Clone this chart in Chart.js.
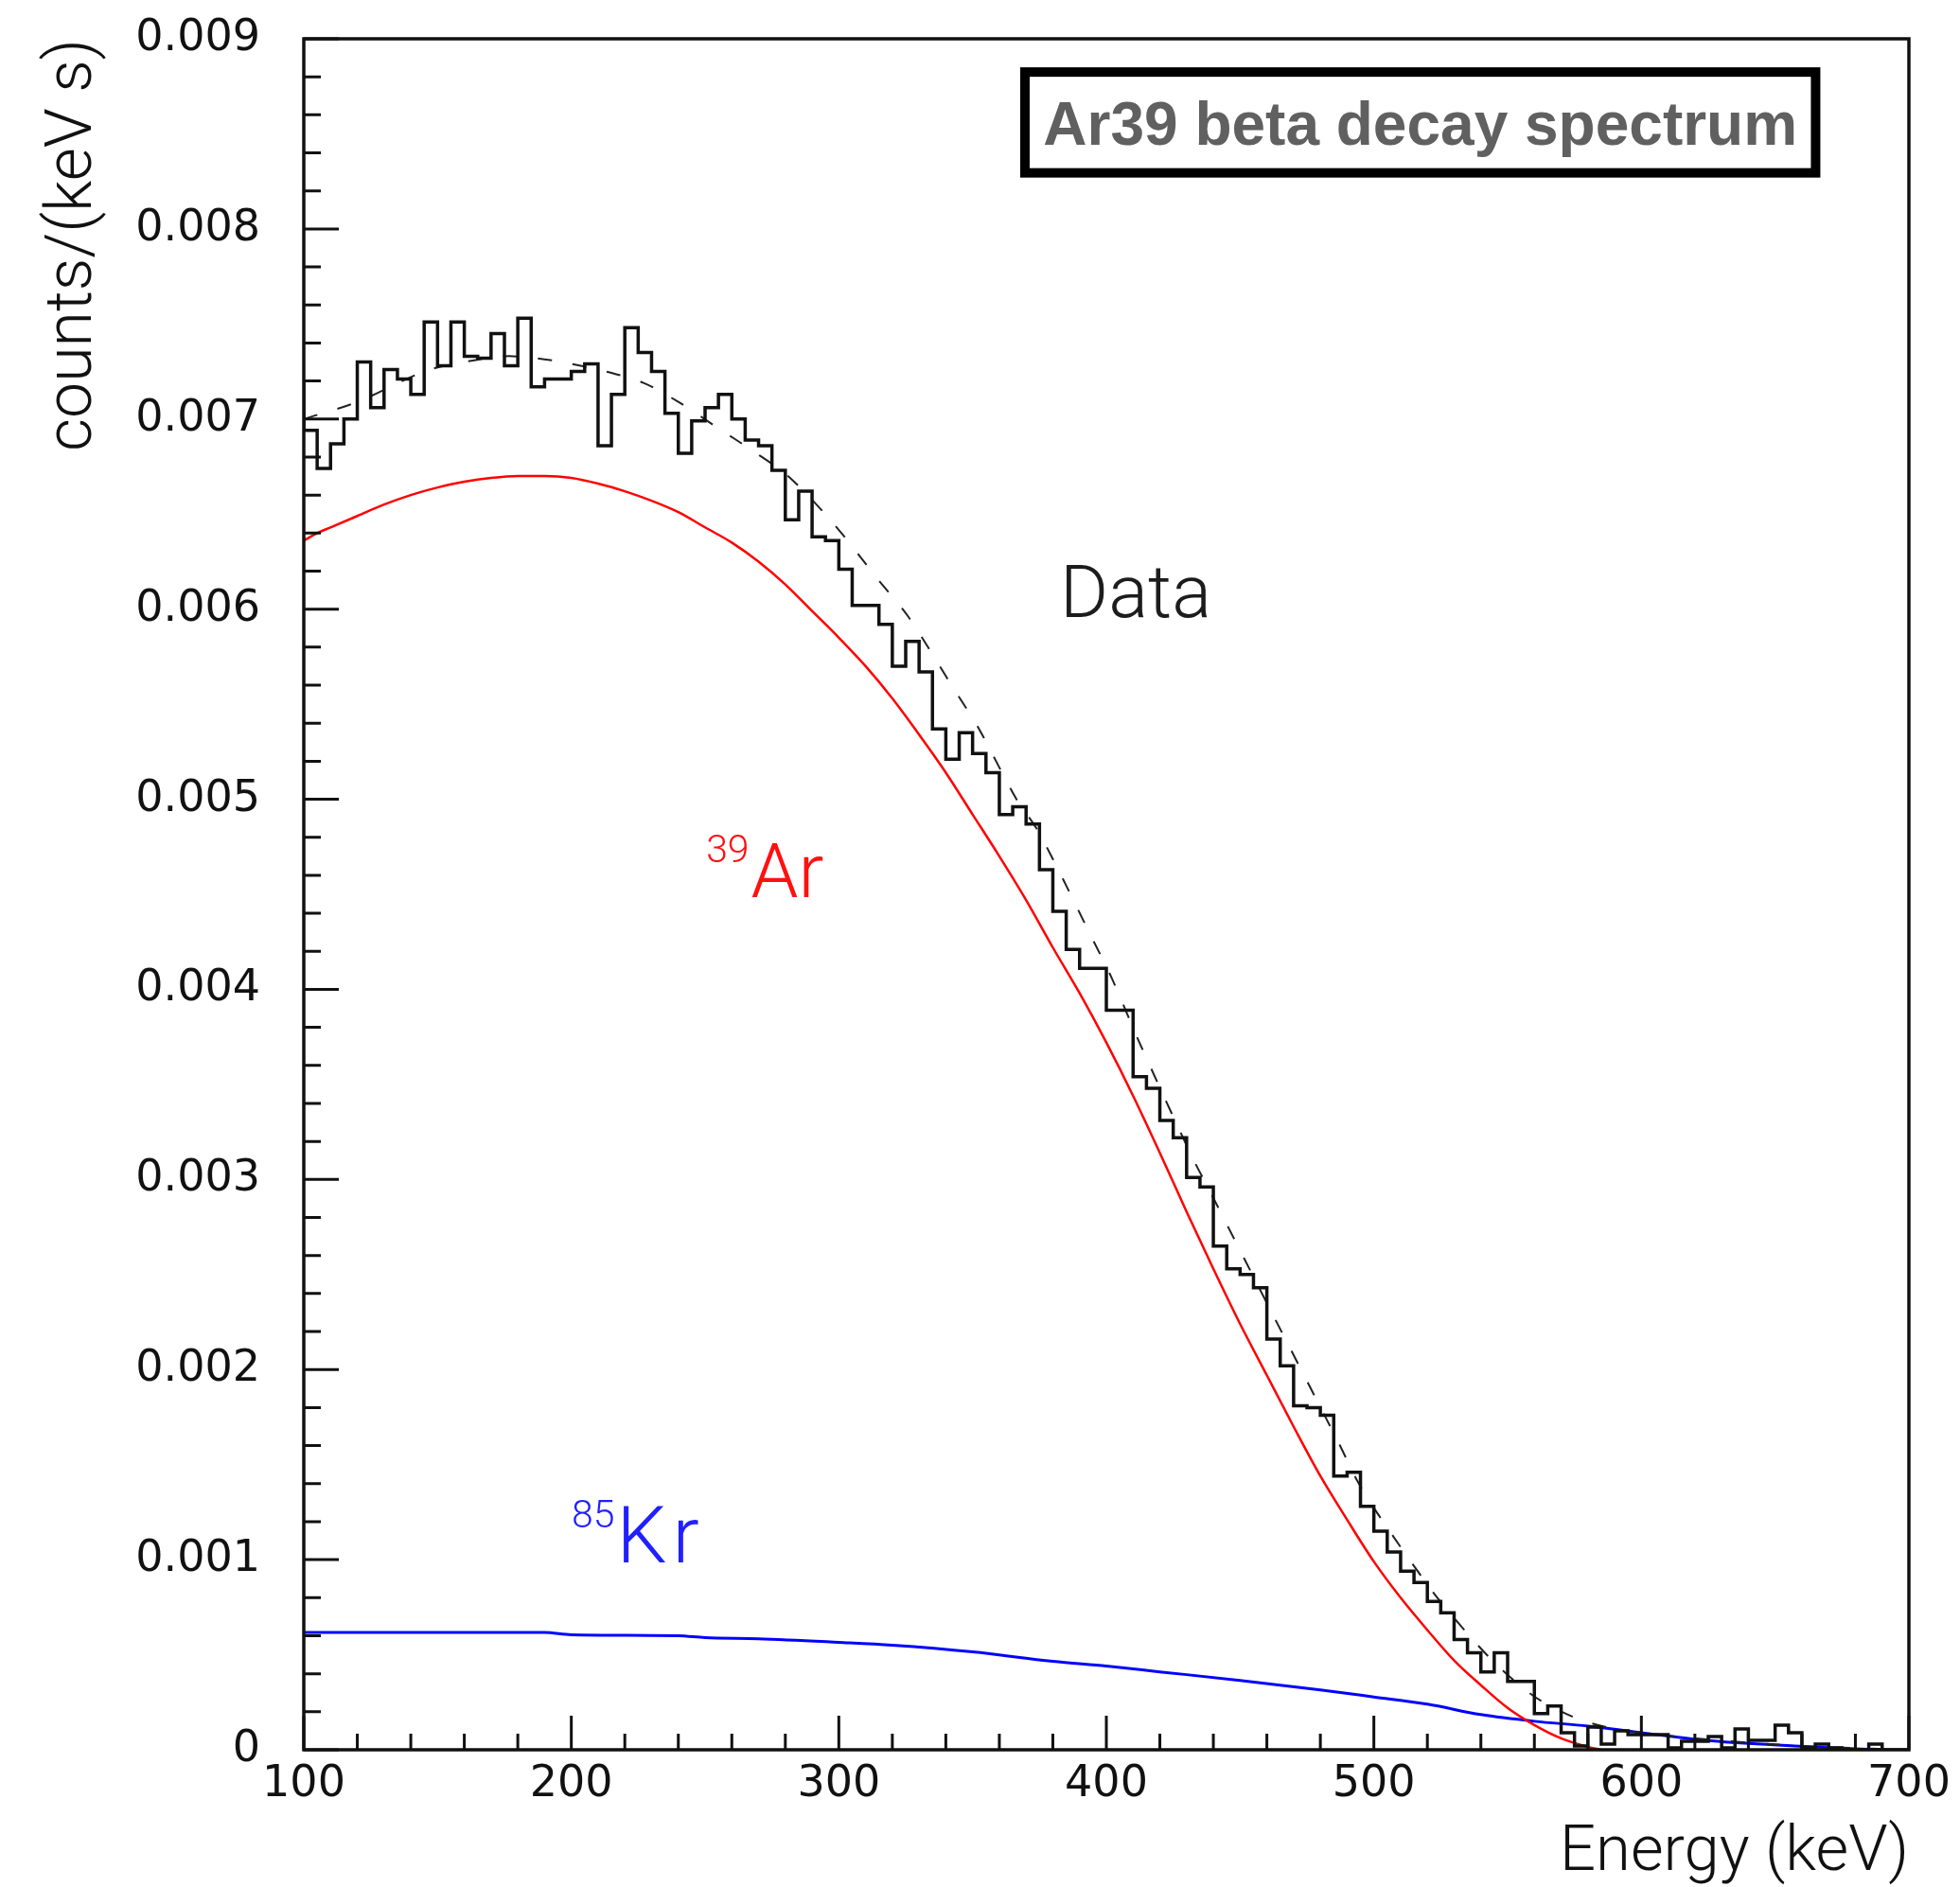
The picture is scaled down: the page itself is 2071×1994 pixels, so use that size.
<!DOCTYPE html>
<html>
<head>
<meta charset="utf-8">
<script src="https://cdn.jsdelivr.net/npm/chart.js@4.4.1/dist/chart.umd.min.js"></script>
<style>
  html, body { margin: 0; padding: 0; background: #fff; }
  #wrap { width: 2071px; height: 1994px; position: relative; }
</style>
</head>
<body>
<div id="wrap"><canvas id="spectrum"></canvas></div>
<script>
// measured spectrum, 5 keV bins starting at 100 keV
const binStart = 100;
const binWidth = 5;
const dataCounts = [
  0.00720, 0.00694, 0.00674, 0.00687, 0.00700, 0.00730, 0.00706, 0.00726, 0.00721, 0.00713,
  0.00751, 0.00728, 0.00751, 0.00733, 0.00732, 0.00745, 0.00728, 0.00753, 0.00717, 0.00721,
  0.00721, 0.00725, 0.00729, 0.00686, 0.00713, 0.00748, 0.00735, 0.00725, 0.00703, 0.00682,
  0.00699, 0.00706, 0.00713, 0.00700, 0.00689, 0.00686, 0.00673, 0.00647, 0.00662, 0.00638,
  0.00636, 0.00621, 0.00602, 0.00602, 0.00592, 0.00570, 0.00583, 0.00567, 0.00537, 0.00521,
  0.00535, 0.00524, 0.00514, 0.00492, 0.00496, 0.00487, 0.00463, 0.00441, 0.00421, 0.00411,
  0.00411, 0.00389, 0.00389, 0.00354, 0.00348, 0.00331, 0.00322, 0.00301, 0.00296, 0.00265,
  0.00253, 0.00250, 0.00243, 0.00216, 0.00202, 0.00181, 0.00180, 0.00176, 0.00144, 0.00146,
  0.00128, 0.00115, 0.00104, 0.00094, 0.00088, 0.00078, 0.00072, 0.00058, 0.00051, 0.00041,
  0.00051, 0.00036, 0.00036, 0.00019, 0.00023, 0.00009, 0.00002, 0.00012, 0.00003, 0.00010,
  0.00008, 0.00008, 0.00008, 0.00001, 0.000045, 0.000045, 0.00007, 0.00001, 0.00011, 0.00005,
  0.00005, 0.00013, 0.00009, 0.00001, 0.00003, 0.00001, 0, 0, 0.00003, 0
];

// total fit (dashed)
const fitEnergy = [100, 120, 145, 160, 175, 187, 200, 213, 227, 240,
  254, 267, 281, 298, 315, 326, 343, 352, 366, 375,
  395, 402, 413, 432, 439, 460, 487, 494, 502, 521,
  532, 545, 560, 575, 590, 620, 660, 700];
const fitTotal = [0.00700, 0.00709, 0.00725, 0.00730, 0.00733, 0.00732, 0.00729, 0.00725, 0.00719, 0.00709,
  0.00696, 0.00684, 0.00670, 0.00645, 0.00615, 0.00596, 0.00558, 0.00538, 0.00501, 0.00482,
  0.00426, 0.00406, 0.00370, 0.00312, 0.00293, 0.00235, 0.00161, 0.00141, 0.00123, 0.00085,
  0.00066, 0.00046, 0.00028, 0.00017, 0.00011, 0.00006, 0.00002, 0.0];

// 39Ar component
const arEnergy = [100, 105, 110, 120, 130, 140, 150, 160, 170, 180, 190, 200, 210, 220, 230, 240,
  250, 260, 270, 280, 290, 300, 310, 320, 330, 340, 350, 360, 370, 380, 390, 400,
  410, 420, 430, 440, 450, 460, 470, 480, 490, 500, 510, 520, 530, 540, 550, 560,
  570, 580, 585];
const arValues = [0.00636, 0.00640, 0.00643, 0.00649, 0.00655, 0.00660, 0.00664, 0.00667, 0.00669, 0.00670,
  0.00670, 0.00669, 0.00666, 0.00662, 0.00657, 0.00651, 0.00643, 0.00635, 0.00625, 0.00613,
  0.00599, 0.00585, 0.00570, 0.00553, 0.00534, 0.00514, 0.00492, 0.00470, 0.00447, 0.00422,
  0.00398, 0.00372, 0.00344, 0.00314, 0.00283, 0.00253, 0.00224, 0.00197, 0.00170, 0.00144,
  0.00121, 0.00099, 0.00080, 0.00063, 0.00047, 0.00034, 0.00022, 0.00013, 0.00006, 0.000015, 0.0];

// 85Kr component
const krEnergy = [100, 190, 200, 240, 250, 270, 300, 320, 350, 380, 400, 420, 450,
  480, 500, 520, 540, 560, 580, 600, 620, 640, 660, 680, 690];
const krValues = [0.000617, 0.000617, 0.000605, 0.000600, 0.000590, 0.000584, 0.000565, 0.000550,
  0.000515, 0.000465, 0.000440, 0.000410, 0.000365, 0.000315, 0.000278, 0.000240, 0.000185,
  0.000150, 0.000125, 0.000090, 0.000055, 0.000033, 0.000018, 0.000005, 0.0];

const xTicks = [100, 200, 300, 400, 500, 600, 700];
const xTickLabels = ["100", "200", "300", "400", "500", "600", "700"];
const yTicks = [0, 0.001, 0.002, 0.003, 0.004, 0.005, 0.006, 0.007, 0.008, 0.009];
const yTickLabels = ["0", "0.001", "0.002", "0.003", "0.004", "0.005", "0.006", "0.007", "0.008", "0.009"];

const histPoints = dataCounts.map((v, i) => ({ x: binStart + i * binWidth, y: v }));
histPoints.push({ x: binStart + dataCounts.length * binWidth, y: dataCounts[dataCounts.length - 1] });

function pairs(xs, ys) {
  return xs.map((e, i) => ({ x: e, y: ys[i] }));
}

// invisible tick marks only push the labels away from the axis
function hiddenTicks(len) {
  return {
    display: true,
    drawOnChartArea: false,
    drawTicks: true,
    tickLength: len,
    color: "rgba(0,0,0,0)",
    tickColor: "rgba(0,0,0,0)",
  };
}

// frame box and inward ticks (ROOT style)
const frameTicks = {
  id: "frameTicks",
  afterDatasetsDraw(chart) {
    const { ctx, chartArea: a, scales: { x, y } } = chart;
    ctx.save();
    ctx.strokeStyle = "#111";
    ctx.lineWidth = 3;
    ctx.beginPath();
    for (let i = 0; i <= 45; i++) {
      const py = y.getPixelForValue(i * 0.0002);
      const len = i % 5 === 0 ? 37 : 18;
      ctx.moveTo(a.left, py);
      ctx.lineTo(a.left + len, py);
    }
    for (let i = 0; i <= 30; i++) {
      const px = x.getPixelForValue(100 + i * 20);
      const len = i % 5 === 0 ? 36 : 17;
      ctx.moveTo(px, a.bottom);
      ctx.lineTo(px, a.bottom - len);
    }
    ctx.stroke();
    ctx.lineWidth = 3.5;
    ctx.strokeRect(a.left, a.top, a.right - a.left, a.bottom - a.top);
    ctx.restore();
  }
};

// text labels placed in data coordinates
const notes = {
  id: "notes",
  afterDraw(chart) {
    const { ctx, scales: { x, y } } = chart;
    ctx.save();
    ctx.textBaseline = "alphabetic";
    ctx.textAlign = "left";

    ctx.fillStyle = "#1c1c1c";
    ctx.font = '300 78px Roboto';
    ctx.fillText("Data", x.getPixelForValue(382.7), y.getPixelForValue(0.00596));

    function isotope(mass, sym, keV, val, color, size, gap) {
      const px = x.getPixelForValue(keV);
      const py = y.getPixelForValue(val);
      ctx.fillStyle = color;
      ctx.font = '300 41px Roboto';
      ctx.fillText(mass, px, py - 37);
      const w = ctx.measureText(mass).width;
      ctx.font = '300 ' + size + 'px Roboto';
      ctx.letterSpacing = gap + "px";
      ctx.fillText(sym, px + w + 2, py);
      ctx.letterSpacing = "0px";
    }
    isotope("39", "Ar", 250.4, 0.004485, "#ff1010", 80, 0);
    isotope("85", "Kr", 200.1, 0.000986, "#2020ff", 84, 6);

    // title box
    const bx0 = x.getPixelForValue(367.8), bx1 = x.getPixelForValue(666.9);
    const by0 = y.getPixelForValue(0.00885), by1 = y.getPixelForValue(0.00827);
    ctx.fillStyle = "#fff";
    ctx.fillRect(bx0, by0, bx1 - bx0, by1 - by0);
    ctx.lineWidth = 10;
    ctx.strokeStyle = "#000";
    ctx.strokeRect(bx0 + 5, by0 + 5, bx1 - bx0 - 10, by1 - by0 - 10);
    ctx.fillStyle = "#606060";
    ctx.font = 'bold 64px "Liberation Sans"';
    ctx.textAlign = "center";
    ctx.fillText("Ar39 beta decay spectrum", (bx0 + bx1) / 2, y.getPixelForValue(0.008442));
    ctx.restore();
  }
};

new Chart(document.getElementById("spectrum"), {
  type: "line",
  data: {
    datasets: [
      {
        label: "Data",
        data: histPoints,
        stepped: "after",
        borderColor: "#111",
        borderWidth: 3.5,
        pointRadius: 0,
        fill: false,
      },
      {
        label: "Fit",
        data: pairs(fitEnergy, fitTotal),
        borderColor: "#222",
        borderWidth: 2,
        borderDash: [15, 22],
        pointRadius: 0,
        tension: 0.3,
        fill: false,
      },
      {
        label: "39Ar",
        data: pairs(arEnergy, arValues),
        borderColor: "#ff0000",
        borderWidth: 2.5,
        pointRadius: 0,
        cubicInterpolationMode: "monotone",
        fill: false,
      },
      {
        label: "85Kr",
        data: pairs(krEnergy, krValues),
        borderColor: "#0000ff",
        borderWidth: 3,
        pointRadius: 0,
        cubicInterpolationMode: "monotone",
        fill: false,
      },
    ],
  },
  options: {
    responsive: true,
    maintainAspectRatio: false,
    animation: false,
    layout: { padding: { left: 0, right: 54, top: 41, bottom: 0 } },
    plugins: {
      legend: { display: false },
      tooltip: { enabled: false },
    },
    scales: {
      x: {
        type: "linear",
        min: 100,
        max: 700,
        grid: hiddenTicks(9),
        border: { display: false },
        afterBuildTicks: (s) => { s.ticks = xTicks.map((v) => ({ value: v })); },
        afterFit: (s) => { s.height = 145; },
        ticks: {
          autoSkip: false,
          maxRotation: 0,
          padding: 0,
          color: "#111",
          font: { family: "DejaVu Sans", size: 46 },
          callback: (v, i) => xTickLabels[i],
        },
        title: {
          display: true,
          text: "Energy (keV)",
          align: "end",
          color: "#111",
          padding: { top: 0, bottom: 0 },
          font: { family: "Roboto", size: 67, weight: 300, lineHeight: 1.05 },
        },
      },
      y: {
        type: "linear",
        min: 0,
        max: 0.009,
        grid: hiddenTicks(46),
        border: { display: false },
        afterBuildTicks: (s) => { s.ticks = yTicks.map((v) => ({ value: v })); },
        afterFit: (s) => { s.width = 321; },
        ticks: {
          padding: 0,
          color: "#111",
          font: { family: "DejaVu Sans", size: 46 },
          callback: (v, i) => yTickLabels[i],
        },
        title: {
          display: true,
          text: "counts/(keV s)",
          align: "end",
          color: "#111",
          padding: { top: 38, bottom: 0 },
          font: { family: "Roboto", size: 68, weight: 300 },
        },
      },
    },
  },
  plugins: [frameTicks, notes],
});
</script>
</body>
</html>
